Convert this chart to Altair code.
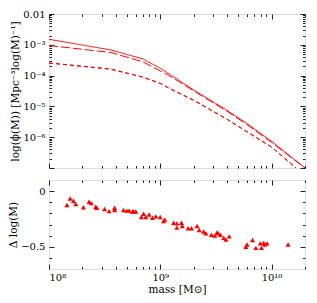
import altair as alt
import pandas as pd
import math

# ---- data ----
mass = [1e8, 3.6e8, 7e8, 1e9, 1.2e9, 2e9, 4e9, 6e9, 1e10, 2e10]
phi_solid = [1.51e-3, 6.8e-4, 3.47e-4, 1.74e-4, 1.15e-4, 3.4e-5, 7.4e-6, 2.8e-6, 7.4e-7, 1.0e-7]
phi_long = [9.5e-4, 5.6e-4, 2.8e-4, 1.41e-4, 1.0e-4, 3.2e-5, 6.9e-6, 2.6e-6, 6.8e-7, 1.0e-7]
mass_short = [1e8, 3.6e8, 7e8, 1e9, 1.2e9, 2e9, 4e9, 6e9, 1e10, 1.66e10]
phi_short = [2.57e-4, 1.62e-4, 8.9e-5, 5.6e-5, 3.9e-5, 1.58e-5, 3.8e-6, 1.51e-6, 4.8e-7, 1.0e-7]

pt_mass = [1.45e8, 1.55e8, 1.66e8, 1.74e8, 2.04e8, 2.29e8, 2.40e8, 2.63e8, 2.69e8, 3.16e8,
           3.47e8, 3.89e8, 3.89e8, 4.68e8, 5.01e8, 5.25e8, 5.75e8, 5.62e8, 6.03e8, 6.76e8,
           7.08e8, 7.41e8, 7.94e8, 8.51e8, 9.12e8, 1.0e9, 1.07e9, 1.10e9, 1.32e9, 1.41e9,
           1.41e9, 1.55e9, 1.58e9, 1.78e9, 1.91e9, 2.14e9, 2.24e9, 2.45e9, 2.57e9, 2.88e9,
           3.24e9, 3.09e9, 3.31e9, 3.47e9, 3.72e9, 3.89e9, 4.17e9, 5.89e9, 6.03e9, 6.76e9,
           7.24e9, 7.94e9, 8.13e9, 8.51e9, 8.71e9, 9.12e9, 1.41e10]
pt_dlog = [-0.125, -0.067, -0.087, -0.116, -0.145, -0.096, -0.108, -0.14, -0.15, -0.16,
           -0.18, -0.15, -0.17, -0.17, -0.175, -0.175, -0.183, -0.183, -0.183, -0.233,
           -0.203, -0.233, -0.21, -0.24, -0.227, -0.233, -0.27, -0.256, -0.285, -0.29,
           -0.328, -0.285, -0.314, -0.334, -0.334, -0.314, -0.349, -0.363, -0.378, -0.392,
           -0.372, -0.40, -0.378, -0.392, -0.42, -0.436, -0.407, -0.50, -0.48, -0.44,
           -0.51, -0.47, -0.51, -0.465, -0.48, -0.47, -0.48]

x_major = [1e8, 1e9, 1e10]
x_major_labels = ["10⁸", "10⁹", "10¹⁰"]
x_minor = [2e8, 3e8, 4e8, 5e8, 6e8, 7e8, 8e8, 9e8,
           2e9, 3e9, 4e9, 5e9, 6e9, 7e9, 8e9, 9e9, 2e10]
y_major = [1e-2, 1e-3, 1e-4, 1e-5, 1e-6, 1e-7]
y_major_labels = ["0.01", "10⁻³", "10⁻⁴", "10⁻⁵", "10⁻⁶", ""]
y_minor = [m * 10.0 ** e for e in range(-7, -2) for m in range(2, 10)]
d_major = [0.0, -0.5]
d_minor = [-0.1, -0.2, -0.3, -0.4, -0.6]

FONT = "DejaVu Serif"
FS = 10
TFS = 10.5
RED = "#ff0000"
W, H1, H2 = 256, 154, 89
MAJ, MIN = 5, 2.5


def log_label_expr(values, labels):
    expr = "''"
    for v, lab in reversed(list(zip(values, labels))):
        k = round(math.log10(v))
        expr = f"abs(log(datum.value)/LN10 - ({k})) < 0.01 ? '{lab}' : " + expr
    return expr


xscale = alt.Scale(type="log", domain=[1e8, 2e10])
yscale = alt.Scale(type="log", domain=[1e-7, 1e-2])
dscale = alt.Scale(domain=[-0.7, 0.1])


def ax(orient, values, size, labels=False, **kw):
    return alt.Axis(orient=orient, values=values, tickSize=size, offset=-size,
                    domain=False, grid=False, labels=labels, tickColor="#222",
                    tickWidth=1, labelFont=FONT, labelFontSize=FS, labelColor="black",
                    titleFont=FONT, titleFontSize=TFS, titleFontWeight="normal",
                    titleColor="black", **kw)


lines = pd.DataFrame({
    "mass": mass * 2 + mass_short,
    "phi": phi_solid + phi_long + phi_short,
    "kind": ["solid"] * len(mass) + ["long"] * len(mass) + ["short"] * len(mass_short),
})
pts = pd.DataFrame({"mass": pt_mass, "dlog": pt_dlog})


def line_layer(kind, dash, xaxis, yaxis):
    return alt.Chart(lines).transform_filter(alt.datum.kind == kind).mark_line(
        color=RED, strokeWidth=1, strokeDash=dash, clip=True
    ).encode(
        x=alt.X("mass:Q", scale=xscale, axis=xaxis),
        y=alt.Y("phi:Q", scale=yscale, axis=yaxis),
    )


top = alt.layer(
    line_layer("solid", [1, 0],
               ax("bottom", x_major, MAJ, title=None),
               ax("left", y_major, MAJ, labels=True,
                  labelExpr=log_label_expr(y_major, y_major_labels),
                  labelPadding=4, title="log(ϕ(M)) [Mpc⁻³log(M)⁻¹]", titlePadding=2)),
    line_layer("long", [9, 3],
               ax("bottom", x_minor, MIN, title=None),
               ax("left", y_minor, MIN, title=None)),
    line_layer("short", [4, 3],
               ax("top", x_major, MAJ, title=None),
               ax("right", y_major, MAJ, title=None)),
    line_layer("short", [4, 3],
               ax("top", x_minor, MIN, title=None),
               ax("right", y_minor, MIN, title=None)),
).resolve_axis(x="independent", y="independent").properties(width=W, height=H1)


def pt_layer(xaxis, yaxis, opacity=1):
    return alt.Chart(pts).mark_point(
        shape="triangle-up", filled=True, color=RED, size=26, opacity=opacity
    ).encode(
        x=alt.X("mass:Q", scale=xscale, axis=xaxis),
        y=alt.Y("dlog:Q", scale=dscale, axis=yaxis),
    )


bottom = alt.layer(
    pt_layer(ax("bottom", x_major, MAJ, labels=True,
                labelExpr=log_label_expr(x_major, x_major_labels),
                labelPadding=3, title="mass [M⊙]", titlePadding=2),
             ax("left", d_major, MAJ, labels=True, format="~g", labelPadding=4,
                title="Δ log(M)", titlePadding=2)),
    pt_layer(ax("bottom", x_minor, MIN, title=None),
             ax("left", d_minor, MIN, title=None), opacity=0),
    pt_layer(ax("top", x_major, MAJ, title=None),
             ax("right", d_major, MAJ, title=None), opacity=0),
    pt_layer(ax("top", x_minor, MIN, title=None),
             ax("right", d_minor, MIN, title=None), opacity=0),
).resolve_axis(x="independent", y="independent").properties(width=W, height=H2)

chart = alt.vconcat(top, bottom, spacing=10).properties(
    padding={"left": 0, "top": 0, "right": 0, "bottom": 0},
).configure_view(stroke="#222", strokeWidth=1).configure(background="white")

chart.save("out.html", embed_options={"renderer": "svg", "actions": False})
